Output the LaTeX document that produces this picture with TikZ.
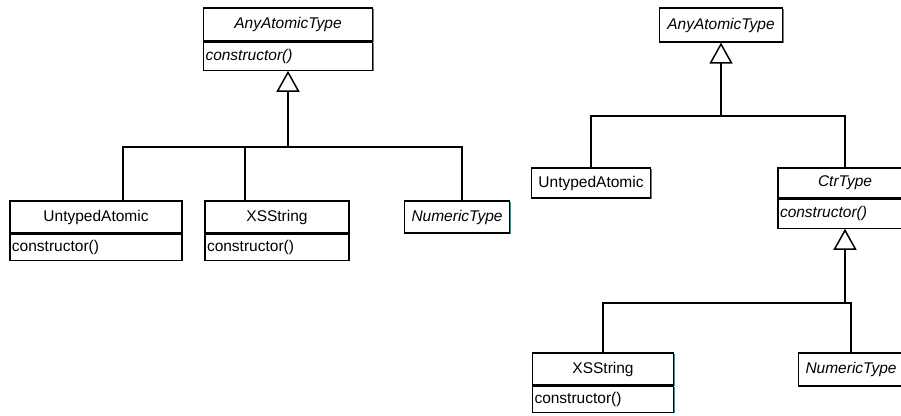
\documentclass[tikz,border=0pt]{standalone}
\usepackage{fontspec}
\usepackage{tikz}
\newfontfamily\umlsf{Liberation Sans}
\usetikzlibrary{positioning,calc,shadows,arrows.meta}

\definecolor{boxshade}{RGB}{70,140,140}
\tikzset{
  cls/.style={draw, line width=1.2pt, fill=white, inner sep=2pt,
    minimum height=32pt, font={\umlsf\fontsize{15.5}{18}\selectfont},
    drop shadow={shadow xshift=1pt, shadow yshift=-1pt, fill=boxshade, opacity=1}},
  meth/.style={cls, anchor=north, minimum height=27pt, align=left},
  link/.style={line width=1.5pt},
  inherit/.style={link, -{Triangle[open, width=23pt, length=21pt]}},
}

\begin{document}
\begin{tikzpicture}[x=1pt, y=-1pt]
    \useasboundingbox (0,0) rectangle (901,415);

    % left hierarchy
    \node[cls, minimum width=169pt, minimum height=33pt] (anyL) at (288,24.5) {\itshape AnyAtomicType};
    \node[meth, text width=165pt, minimum height=28pt] (anyLm) at (anyL.south) {\itshape constructor()};

    \node[cls, minimum width=172pt] (untypedL) at (96,217) {UntypedAtomic};
    \node[meth, text width=168pt, minimum height=26pt] (untypedLm) at (untypedL.south) {constructor()};
    \node[cls, minimum width=144pt] (xsL) at (277,217) {XSString};
    \node[meth, text width=140pt, minimum height=26pt] (xsLm) at (xsL.south) {constructor()};
    \node[cls, minimum width=105pt] (numL) at (457,217) {\itshape NumericType};

    \coordinate (jL) at (288,147);
    \draw[inherit] (jL) -- (anyLm.south);
    \draw[link] ([xshift=27pt]untypedL.north) |- (jL);
    \draw[link] ([xshift=-32pt]xsL.north) |- (jL);
    \draw[link] ([xshift=5pt]numL.north) |- (jL);

    % right hierarchy
    \node[cls, minimum width=123pt, minimum height=34pt] (anyR) at (721,25) {\itshape AnyAtomicType};
    \node[cls, minimum width=119pt, minimum height=30pt] (untypedR) at (591,183) {UntypedAtomic};
    \node[cls, minimum width=134pt, minimum height=30pt] (ctr) at (845,183) {\itshape CtrType};
    \node[meth, text width=130pt, minimum height=29pt] (ctrm) at (ctr.south) {\itshape constructor()};

    \node[cls, minimum width=141pt] (xsR) at (603,369) {XSString};
    \node[meth, text width=137pt, minimum height=26pt] (xsRm) at (xsR.south) {constructor()};
    \node[cls, minimum width=105pt, minimum height=33pt] (numR) at (851,369.5) {\itshape NumericType};

    \coordinate (jR) at (721,116);
    \draw[inherit] (jR) -- (anyR.south);
    \draw[link] (untypedR.north) |- (jR);
    \draw[link] (ctr.north) |- (jR);

    \coordinate (jR2) at (845,303);
    \draw[inherit] (jR2) -- (ctrm.south);
    \draw[link] (xsR.north) |- (jR2);
    \draw[link] (numR.north) |- (jR2);
\end{tikzpicture}
\end{document}
